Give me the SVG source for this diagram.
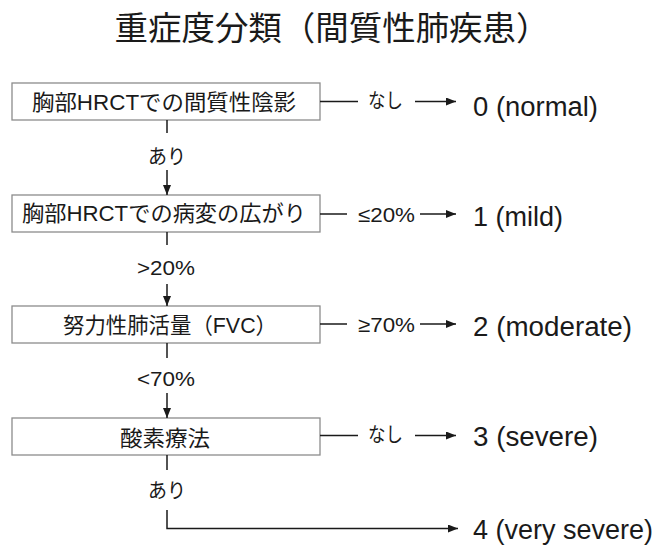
<svg xmlns="http://www.w3.org/2000/svg" width="663" height="545" viewBox="0 0 663 545">
<style>
.box{fill:#fff;stroke:#8c8c8c;stroke-width:1.3}
.bt{font-family:"Liberation Sans","Noto Sans CJK JP",sans-serif;font-size:22px;fill:#1a1a1a;text-anchor:middle}
.lb{font-family:"Liberation Sans","Noto Sans CJK JP",sans-serif;font-size:20px;fill:#1a1a1a}
.pc{font-family:"Liberation Sans","Noto Sans CJK JP",sans-serif;font-size:21px;fill:#1a1a1a}
.res{font-family:"Liberation Sans","Noto Sans CJK JP",sans-serif;font-size:27px;fill:#1a1a1a}
.ln{fill:none;stroke:#1a1a1a;stroke-width:1.5}
.title{font-family:"Liberation Sans","Noto Sans CJK JP",sans-serif;font-size:33px;fill:#1a1a1a;text-anchor:middle}
</style>
<defs>
<marker id="ah" viewBox="0 0 10 8" refX="10" refY="4" markerWidth="10" markerHeight="8" markerUnits="userSpaceOnUse" orient="auto">
<path d="M0,0 L10,4 L0,8 Z" fill="#1a1a1a"/>
</marker>
</defs>
<rect width="663" height="545" fill="#fff"/>
<text class="title" x="332" y="40" textLength="435" lengthAdjust="spacingAndGlyphs">重症度分類（間質性肺疾患）</text>

<g id="node1"><rect class="box" x="12" y="83" width="308" height="37"/><text class="bt" x="164" y="110" textLength="264" lengthAdjust="spacingAndGlyphs">胸部HRCTでの間質性陰影</text></g>
<g id="node2"><rect class="box" x="12" y="195" width="308" height="37"/><text class="bt" x="164" y="221" textLength="284" lengthAdjust="spacingAndGlyphs">胸部HRCTでの病変の広がり</text></g>
<g id="node3"><rect class="box" x="12" y="306" width="308" height="37"/><text class="bt" x="170" y="333" textLength="214" lengthAdjust="spacingAndGlyphs">努力性肺活量（FVC）</text></g>
<g id="node4"><rect class="box" x="12" y="418" width="308" height="37"/><text class="bt" x="165" y="446" textLength="90" lengthAdjust="spacingAndGlyphs">酸素療法</text></g>

<g id="res0"><text class="res" x="473" y="116" textLength="125" lengthAdjust="spacingAndGlyphs">0 (normal)</text></g>
<g id="res1"><text class="res" x="473" y="226" textLength="90" lengthAdjust="spacingAndGlyphs">1 (mild)</text></g>
<g id="res2"><text class="res" x="473" y="336" textLength="159" lengthAdjust="spacingAndGlyphs">2 (moderate)</text></g>
<g id="res3"><text class="res" x="473" y="446" textLength="125" lengthAdjust="spacingAndGlyphs">3 (severe)</text></g>
<g id="res4"><text class="res" x="473" y="539" textLength="180" lengthAdjust="spacingAndGlyphs">4 (very severe)</text></g>

<g id="connectors">
<line class="ln" x1="320" y1="101.5" x2="358" y2="101.5"/>
<text class="lb" x="368" y="108" textLength="35" lengthAdjust="spacingAndGlyphs">なし</text>
<line class="ln" x1="415" y1="101.5" x2="456" y2="101.5" marker-end="url(#ah)"/>

<line class="ln" x1="320" y1="214" x2="347" y2="214"/>
<text class="pc" x="358" y="222" textLength="57" lengthAdjust="spacingAndGlyphs">≤20%</text>
<line class="ln" x1="420" y1="214" x2="456" y2="214" marker-end="url(#ah)"/>

<line class="ln" x1="320" y1="324" x2="347" y2="324"/>
<text class="pc" x="358" y="332" textLength="57" lengthAdjust="spacingAndGlyphs">≥70%</text>
<line class="ln" x1="420" y1="324" x2="456" y2="324" marker-end="url(#ah)"/>

<line class="ln" x1="320" y1="435.5" x2="358" y2="435.5"/>
<text class="lb" x="368" y="442" textLength="35" lengthAdjust="spacingAndGlyphs">なし</text>
<line class="ln" x1="415" y1="435.5" x2="456" y2="435.5" marker-end="url(#ah)"/>

<line class="ln" x1="167" y1="120" x2="167" y2="133"/>
<text class="lb" x="167" y="164" text-anchor="middle" textLength="38" lengthAdjust="spacingAndGlyphs">あり</text>
<line class="ln" x1="167" y1="170" x2="167" y2="195" marker-end="url(#ah)"/>

<line class="ln" x1="167" y1="232" x2="167" y2="245"/>
<text class="pc" x="166" y="275" text-anchor="middle" textLength="58" lengthAdjust="spacingAndGlyphs">&gt;20%</text>
<line class="ln" x1="167" y1="284" x2="167" y2="306" marker-end="url(#ah)"/>

<line class="ln" x1="167" y1="343" x2="167" y2="358"/>
<text class="pc" x="166" y="386" text-anchor="middle" textLength="58" lengthAdjust="spacingAndGlyphs">&lt;70%</text>
<line class="ln" x1="167" y1="393" x2="167" y2="418" marker-end="url(#ah)"/>

<line class="ln" x1="167" y1="455" x2="167" y2="470"/>
<text class="lb" x="167" y="498" text-anchor="middle" textLength="38" lengthAdjust="spacingAndGlyphs">あり</text>
<polyline class="ln" points="167,510 167,528.5 458,528.5" marker-end="url(#ah)"/>
</g>
</svg>
